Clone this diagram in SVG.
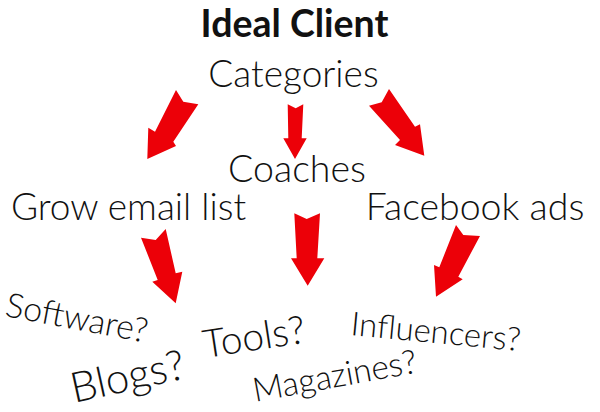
<svg xmlns="http://www.w3.org/2000/svg" width="600" height="412" viewBox="0 0 600 412">
<style>
text{font-family:"Lato Light",Lato,"Open Sans","Liberation Sans",sans-serif;fill:#111;font-weight:300}
.title{font-family:Lato,"Open Sans","Liberation Sans",sans-serif;font-weight:700;font-size:37.5px}
.arrow{fill:#EC0008}
</style>
<rect width="600" height="412" fill="#fff"/>
<g id="title"><text class="title" x="294.5" y="36.5" text-anchor="middle">Ideal Client</text></g>
<g id="categories"><text x="293.5" y="87" font-size="37" text-anchor="middle">Categories</text></g>
<g id="coaches"><text x="297" y="182" font-size="37.5" text-anchor="middle">Coaches</text></g>
<g id="grow"><text x="128.5" y="220" font-size="37" text-anchor="middle">Grow email list</text></g>
<g id="facebook"><text x="475" y="220" font-size="37.5" text-anchor="middle">Facebook ads</text></g>
<g id="software"><text x="4" y="316" font-size="34" transform="rotate(10.7 4 316)">Software?</text></g>
<g id="blogs"><text x="74" y="403" font-size="42" transform="rotate(-12.4 74 403)">Blogs?</text></g>
<g id="tools"><text x="205" y="358" font-size="39" transform="rotate(-8.7 205 358)">Tools?</text></g>
<g id="magazines"><text x="255" y="402" font-size="33.5" transform="rotate(-10.3 255 402)">Magazines?</text></g>
<g id="influencers"><text x="350" y="335" font-size="33" transform="rotate(5.4 350 335)">Influencers?</text></g>
<g id="connectors">
<polygon class="arrow" points="176,90 183.3,101.7 198.3,104.3 173.3,141.7 176,146 147.3,159 148.3,127.7 155,131.7"/>
<polygon class="arrow" points="287.7,104.3 295.7,108.3 303.3,104.3 301.7,138.3 306.7,138.3 295,159 283.3,138.3 288.3,138.3"/>
<polygon class="arrow" points="389,89 415,126.7 420,124.3 424.3,155.7 395,145 400,140 369,105.7 381.7,102.3"/>
<polygon class="arrow" points="141,237.7 155.7,240 165.7,229 175.7,273.3 182.3,271.7 175.7,303.3 152.3,281.7 157.7,280"/>
<polygon class="arrow" points="294.3,213.3 306.7,219 320,213.3 317.3,258.3 324.3,258.3 307.7,285.7 291,258.3 296.7,258.3"/>
<polygon class="arrow" points="456,225 463.3,235 480,236 458.3,276.7 462.7,279.3 436,296.7 434,265 439.3,267.3"/>
</g>
</svg>
